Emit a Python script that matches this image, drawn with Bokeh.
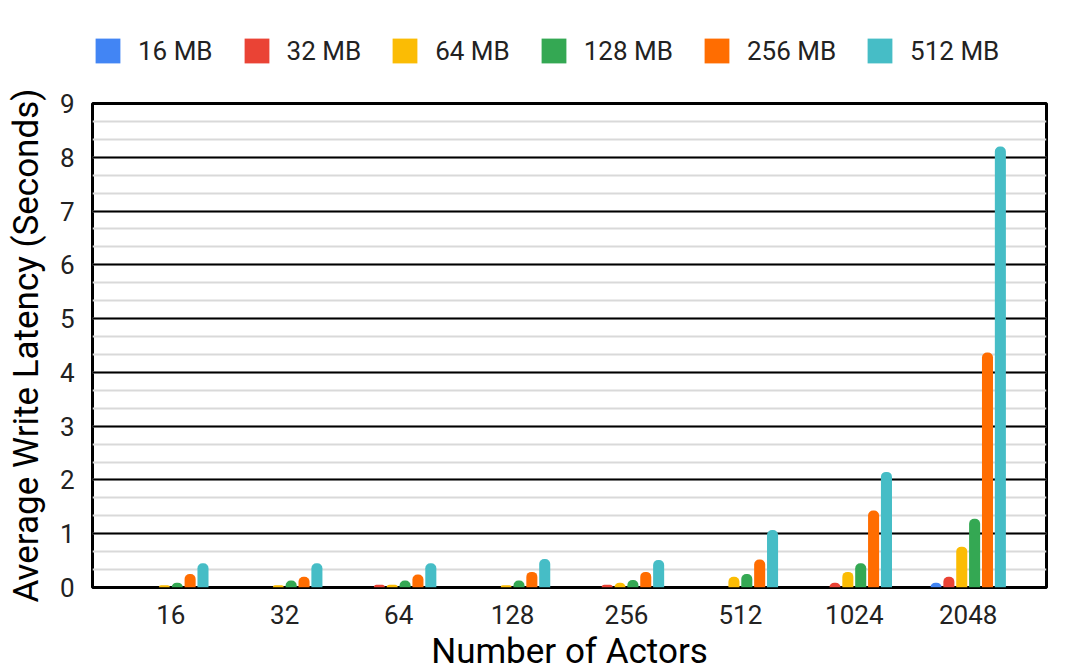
from bokeh.plotting import figure
from bokeh.layouts import column
from bokeh.models import (FactorRange, Range1d, SingleIntervalTicker, Legend,
                          LegendItem, ColumnDataSource, Label)
from bokeh.transform import dodge
from bokeh.embed import file_html
from bokeh.resources import INLINE

# ---- data -------------------------------------------------------------
actors = ["16", "32", "64", "128", "256", "512", "1024", "2048"]
series_names = ["16 MB", "32 MB", "64 MB", "128 MB", "256 MB", "512 MB"]
colors = ["#4285F4", "#EA4335", "#FBBC04", "#34A853", "#FF6D01", "#46BDC6"]

mb16 = [0.0, 0.0, 0.0, 0.0, 0.0, 0.0, 0.0, 0.09]
mb32 = [0.0, 0.0, 0.05, 0.0, 0.05, 0.0, 0.09, 0.2]
mb64 = [0.04, 0.04, 0.05, 0.04, 0.09, 0.2, 0.29, 0.76]
mb128 = [0.09, 0.13, 0.13, 0.13, 0.14, 0.25, 0.45, 1.28]
mb256 = [0.25, 0.2, 0.24, 0.29, 0.29, 0.52, 1.43, 4.37]
mb512 = [0.45, 0.45, 0.45, 0.53, 0.51, 1.07, 2.15, 8.2]

x_title = "Number of Actors"
y_title = "Average Write Latency (Seconds)"

cols = ["mb16", "mb32", "mb64", "mb128", "mb256", "mb512"]
source = ColumnDataSource(dict(actors=actors, mb16=mb16, mb32=mb32, mb64=mb64,
                               mb128=mb128, mb256=mb256, mb512=mb512))

FONT = "Roboto"
TXT = "#222222"
W, H = 1080, 664
LEG_H = 80          # legend strip height
TITLE_H = 29        # x-title strip height
FRAME_TOP, FRAME_BOTTOM = 103, 587
MAIN_H = H - LEG_H - TITLE_H

# ---- legend strip (separate figure, legend only) -----------------------
pl = figure(
    x_range=FactorRange(factors=actors), y_range=Range1d(100, 101),
    width=W, height=LEG_H, output_backend="svg", toolbar_location=None,
    x_axis_location=None, y_axis_location=None,
    min_border_left=0, min_border_right=0, min_border_top=0, min_border_bottom=0,
    background_fill_color="white", border_fill_color="white",
)
pl.outline_line_color = None
pl.grid.visible = False

leg_renderers = []
for i, c in enumerate(cols):
    r = pl.vbar(x=dodge("actors", 0, range=pl.x_range), top=c, width=0.1,
                source=source, fill_color=colors[i], line_color=None,
                border_radius=2)
    leg_renderers.append(r)

legend = Legend(
    items=[LegendItem(label=n, renderers=[r]) for n, r in zip(series_names, leg_renderers)],
    orientation="horizontal", location=(0, 14),
    glyph_width=31, glyph_height=31, label_height=31,
    label_standoff=15, spacing=28, padding=0, margin=0,
    label_text_font=FONT, label_text_font_size="26px", label_text_color=TXT,
    border_line_color=None, background_fill_alpha=0,
)
pl.add_layout(legend, "center")

# ---- main chart ---------------------------------------------------------
p = figure(
    x_range=FactorRange(factors=actors, range_padding=0.1875,
                        range_padding_units="absolute"),
    y_range=Range1d(0, 9),
    width=W, height=MAIN_H,
    output_backend="svg", toolbar_location=None,
    min_border_left=92, min_border_right=34,
    min_border_top=FRAME_TOP - LEG_H,
    min_border_bottom=MAIN_H - (FRAME_BOTTOM - LEG_H),
    background_fill_color="white", border_fill_color="white",
)

pitch = 0.113
bw = 0.097
for i, c in enumerate(cols):
    p.vbar(x=dodge("actors", (i - 2.5) * pitch, range=p.x_range),
           top=c, width=bw, source=source,
           fill_color=colors[i], line_color=None,
           border_radius=(5, 5, 0, 0))

# grid
p.xgrid.visible = False
p.yaxis.ticker = SingleIntervalTicker(interval=1, num_minor_ticks=3)
p.ygrid.grid_line_color = "black"
p.ygrid.grid_line_width = 2
p.ygrid.minor_grid_line_color = "#d9d9d9"
p.ygrid.minor_grid_line_width = 2

p.outline_line_color = "black"
p.outline_line_width = 3
p.outline_line_alpha = 1

for ax in (p.xaxis, p.yaxis):
    ax.axis_line_color = None
    ax.major_tick_line_color = None
    ax.minor_tick_line_color = None
    ax.major_tick_out = 0
    ax.major_tick_in = 0
    ax.major_label_text_font = FONT
    ax.major_label_text_font_size = "26px"
    ax.major_label_text_color = TXT
    ax.axis_label_text_font = FONT
    ax.axis_label_text_font_size = "35px"
    ax.axis_label_text_font_style = "normal"
    ax.axis_label_text_color = "black"

p.yaxis.axis_label = y_title
p.yaxis.major_label_standoff = 14
p.yaxis.axis_label_standoff = 10
p.xaxis.major_label_standoff = 17

# ---- x-axis title strip -------------------------------------------------
pt = figure(
    x_range=Range1d(0, 1), y_range=Range1d(0, 1),
    width=W, height=TITLE_H, output_backend="svg", toolbar_location=None,
    x_axis_location=None, y_axis_location=None,
    min_border_left=0, min_border_right=0, min_border_top=0, min_border_bottom=0,
    background_fill_color="white", border_fill_color="white",
)
pt.outline_line_color = None
pt.grid.visible = False
pt.add_layout(Label(x=0.5, y=13, y_units="screen", text=x_title,
                    text_align="center", text_baseline="alphabetic",
                    text_font=FONT, text_font_size="35px", text_color="black"))

layout = column(pl, p, pt, spacing=0)
open("out.html", "w").write(file_html(layout, INLINE))
